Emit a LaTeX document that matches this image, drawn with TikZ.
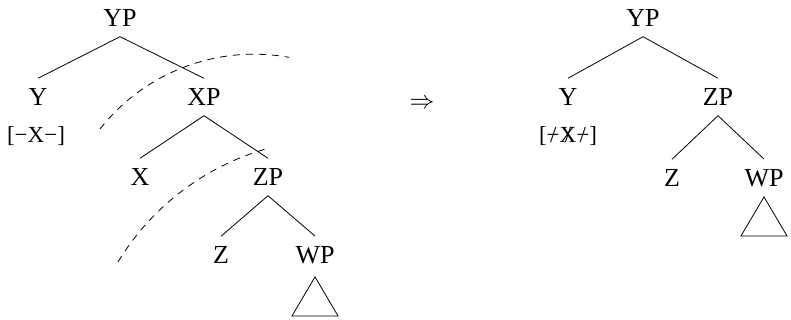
\documentclass[tikz,border=0pt]{standalone}
\usepackage{fontspec}
\setmainfont{Liberation Serif}
\newcommand\strk[1]{\ooalign{#1\cr\hidewidth/\hidewidth\cr}}
\begin{document}
\begin{tikzpicture}[x=1pt,y=-1pt,
  lab/.style={font=\fontsize{26}{30}\selectfont, inner xsep=1pt, inner ysep=10pt},
  feat/.style={font=\fontsize{23}{27}\selectfont, inner sep=0pt, anchor=base},
  edge/.style={line width=0.8pt},
  cut/.style={line width=0.8pt, dash pattern=on 7pt off 6pt}]
\useasboundingbox (0,0) rectangle (791,320);
% left tree
\node[lab] (yp) at (120,18) {YP};
\node[lab] (y) at (38,97) {Y};
\node[lab] (xp) at (204,97) {XP};
\node[feat] (f1) at (36,143) {[−X−]};
\node[lab] (x) at (140,177) {X};
\node[lab] (zp) at (268,177) {ZP};
\node[lab] (z) at (221,255) {Z};
\node[lab] (wp) at (315,255) {WP};
\draw[edge] (yp.south) -- (y.north);
\draw[edge] (yp.south) -- (xp.north);
\draw[edge] (xp.south) -- (x.north);
\draw[edge] (xp.south) -- (zp.north);
\draw[edge] (zp.south) -- (z.north);
\draw[edge] (zp.south) -- (wp.north);
\draw[edge] ([yshift=-3pt]wp.south) -- ++(-23,39) -- ++(46,0) -- cycle;
% dashed cuts
\draw[cut] (100,129) arc[start angle=141.8, end angle=79.7, radius=196pt];
\draw[cut] (118,262) arc[start angle=148.8, end angle=105.5, radius=255pt];
% arrow
\node[font=\fontsize{26}{30}\selectfont, inner sep=0pt] (arr) at (422,104) {$\Rightarrow$};
% right tree
\node[lab] (yp2) at (643,18) {YP};
\node[lab] (y2) at (568,97) {Y};
\node[lab] (zp2) at (718,97) {ZP};
\node[feat] (f2) at (568,143) {[\strk{−}\strk{X}\strk{−}]};
\node[lab] (z2) at (672,178) {Z};
\node[lab] (wp2) at (764,178) {WP};
\draw[edge] (yp2.south) -- (y2.north);
\draw[edge] (yp2.south) -- (zp2.north);
\draw[edge] (zp2.south) -- (z2.north);
\draw[edge] (zp2.south) -- (wp2.north);
\draw[edge] (wp2.south) -- ++(-23,39) -- ++(46,0) -- cycle;
\end{tikzpicture}
\end{document}
